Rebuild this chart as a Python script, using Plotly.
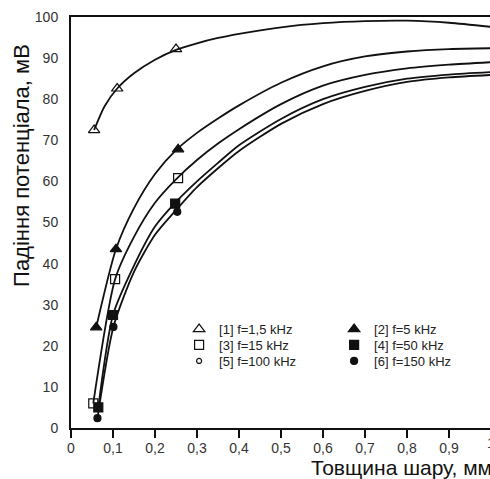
import plotly.graph_objects as go

# Measured points (thickness, mm; potential drop, mV)
names = ["[1] f=1,5 kHz", "[2] f=5 kHz", "[3] f=15 kHz",
         "[4] f=50 kHz", "[5] f=100 kHz", "[6] f=150 kHz"]

pts_x1 = [0.055, 0.11, 0.25, 1.0]
pts_y1 = [72.5, 82.6, 92.2, 97.5]
pts_x2 = [0.06, 0.107, 0.255, 1.0]
pts_y2 = [24.5, 43.5, 67.8, 92.4]
pts_x3 = [0.053, 0.105, 0.255, 1.0]
pts_y3 = [6.0, 36.2, 60.8, 89.0]
pts_x4 = [0.065, 0.10, 0.248, 1.0]
pts_y4 = [5.0, 27.5, 54.6, 86.6]
pts_x5 = [0.063, 0.101, 0.253, 1.0]
pts_y5 = [2.4, 24.6, 52.6, 85.9]
pts_x6 = [0.063, 0.101, 0.253, 1.0]
pts_y6 = [2.4, 24.6, 52.6, 85.9]

# Fitted curves
cur_x1 = [0.055, 0.08, 0.11, 0.15, 0.2, 0.25, 0.3, 0.35, 0.4, 0.5, 0.6, 0.7, 0.8, 0.9, 1.0]
cur_y1 = [72.5, 78.3, 82.6, 86.3, 89.6, 92.0, 93.6, 94.9, 95.9, 97.5, 98.5, 99.0, 99.1, 98.6, 97.6]
cur_x2 = [0.06, 0.107, 0.15, 0.2, 0.25, 0.3, 0.35, 0.4, 0.5, 0.6, 0.7, 0.8, 0.9, 1.0]
cur_y2 = [24.5, 43.5, 53.5, 61.8, 67.6, 71.8, 75.3, 78.5, 84.0, 88.0, 90.4, 91.6, 92.2, 92.4]
cur_x3 = [0.053, 0.105, 0.15, 0.2, 0.25, 0.3, 0.35, 0.4, 0.5, 0.6, 0.7, 0.8, 0.9, 1.0]
cur_y3 = [6.0, 36.2, 46.5, 54.8, 60.5, 65.2, 69.2, 72.7, 78.8, 83.3, 85.9, 87.5, 88.4, 89.0]
cur_x4 = [0.065, 0.10, 0.15, 0.2, 0.25, 0.3, 0.35, 0.4, 0.5, 0.6, 0.7, 0.8, 0.9, 1.0]
cur_y4 = [5.0, 27.5, 39.5, 49.0, 55.0, 60.0, 64.5, 68.8, 75.2, 80.0, 83.0, 85.0, 86.0, 86.6]
cur_x6 = [0.063, 0.101, 0.15, 0.2, 0.25, 0.3, 0.35, 0.4, 0.5, 0.6, 0.7, 0.8, 0.9, 1.0]
cur_y6 = [2.4, 24.6, 38.0, 47.0, 53.0, 58.6, 63.2, 67.4, 74.0, 78.8, 82.0, 84.2, 85.3, 85.9]

x_ticks = [0, 0.1, 0.2, 0.3, 0.4, 0.5, 0.6, 0.7, 0.8, 0.9]
x_ticktext = ["0", "0,1", "0,2", "0,3", "0,4", "0,5", "0,6", "0,7", "0,8", "0,9"]
y_ticks = [0, 10, 20, 30, 40, 50, 60, 70, 80, 90, 100]

FONT = "Liberation Sans, Arial, sans-serif"
fig = go.Figure()

for cx, cy in [(cur_x1, cur_y1), (cur_x2, cur_y2), (cur_x3, cur_y3),
               (cur_x4, cur_y4), (cur_x6, cur_y6)]:
    fig.add_trace(go.Scatter(x=cx, y=cy, mode="lines", showlegend=False,
                             line=dict(color="#111", width=1.8, shape="spline", smoothing=0.7),
                             hoverinfo="skip"))

markers = [
    (pts_x1, pts_y1, "triangle-up-open", 10, "legend"),
    (pts_x2, pts_y2, "triangle-up", 10, "legend"),
    (pts_x3, pts_y3, "square-open", 9, "legend2"),
    (pts_x4, pts_y4, "square", 9, "legend2"),
    (pts_x5, pts_y5, "circle-open", 5, "legend3"),
    (pts_x6, pts_y6, "circle", 7, "legend3"),
]
for (px, py, sym, sz, lg), nm in zip(markers, names):
    fig.add_trace(go.Scatter(x=px, y=py, mode="markers", name=nm, cliponaxis=False,
                             legend=lg,
                             marker=dict(symbol=sym, size=sz, color="#111",
                                         line=dict(color="#111", width=1.2))))

def leg(y):
    return dict(orientation="h", x=0.258, y=y, xanchor="left", yanchor="top",
                entrywidth=110, entrywidthmode="pixels", itemwidth=30,
                font=dict(size=13, color="#222"), bgcolor="rgba(0,0,0,0)")

fig.update_layout(
    width=490, height=479,
    margin=dict(l=71, r=0, t=17, b=51),
    paper_bgcolor="white", plot_bgcolor="white",
    font=dict(family=FONT, color="#222", size=14),
    separators=", ",
    showlegend=True,
    legend=leg(0.277), legend2=leg(0.2384), legend3=leg(0.1995),
    xaxis=dict(range=[0, 419 / 420], tickvals=x_ticks, ticktext=x_ticktext,
               showgrid=False, zeroline=False, showline=True, linewidth=2,
               linecolor="#111", mirror=True, ticks="outside", ticklen=8,
               tickwidth=2, tickcolor="#111", tickfont=dict(size=14, color="#333"),
               ticklabelstandoff=-2),
    yaxis=dict(range=[0, 100], tickvals=y_ticks, showgrid=False, zeroline=False,
               showline=True, linewidth=2, linecolor="#111", ticks="",
               ticklabelstandoff=8, tickfont=dict(size=14, color="#333")),
    annotations=[
        dict(text="1", xref="paper", yref="paper", x=1.0024, y=0, yshift=-15,
             xanchor="center", yanchor="middle", showarrow=False,
             font=dict(size=14, color="#333")),
        dict(text="Товщина шару, мм", xref="paper", yref="paper", x=0.568, y=-0.095,
             xanchor="left", yanchor="middle", showarrow=False,
             font=dict(size=21, color="#111")),
        dict(text="Падіння потенціала, мВ", xref="paper", yref="paper", x=-0.117, y=0.64,
             xanchor="center", yanchor="middle", textangle=-90, showarrow=False,
             font=dict(size=22, color="#111")),
    ],
)

fig.write_html("out.html")
